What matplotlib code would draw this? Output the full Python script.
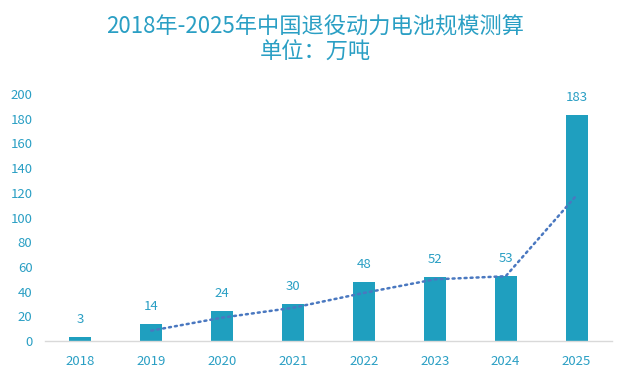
import matplotlib
matplotlib.use("Agg")
import matplotlib.pyplot as plt

plt.rcParams["font.family"] = ["Noto Sans CJK SC", "DejaVu Sans"]

years = ["2018", "2019", "2020", "2021", "2022", "2023", "2024", "2025"]
scale = [3, 14, 24, 30, 48, 52, 53, 183]
# two-period moving average trendline (starts at 2019)
trend_years = years[1:]
trend = [8.5, 19, 27, 39, 50, 52.5, 118]
y_ticks = [0, 20, 40, 60, 80, 100, 120, 140, 160, 180, 200]

text_color = "#2a9fc4"
bar_color = "#1f9fbf"
trend_color = "#4a78c0"

fig = plt.figure(figsize=(6.3, 3.82), dpi=100)
ax = fig.add_axes([0.0714, 0.107, 0.9, 0.647])

x = range(len(years))
ax.bar(x, scale, width=0.31, color=bar_color, zorder=2)
for xi, v in zip(x, scale):
    ax.annotate(str(v), (xi, v), xytext=(0, 8), textcoords="offset points",
                ha="center", va="bottom", fontsize=9.5, color=text_color)

tx = [years.index(y) for y in trend_years]
ax.plot(tx, trend, linestyle=(0, (0.8, 1.6)), color=trend_color, lw=1.8,
        dash_capstyle="round", zorder=3)

ax.set_xlim(-0.5, len(years) - 0.5)
ax.set_ylim(0, 200)
ax.set_xticks(list(x))
ax.set_xticklabels(years)
ax.set_yticks(y_ticks)
ax.tick_params(axis="both", length=0, labelsize=9.5, colors=text_color)
ax.tick_params(axis="x", pad=10)
ax.tick_params(axis="y", pad=9)

for side in ["top", "right", "left"]:
    ax.spines[side].set_visible(False)
ax.spines["bottom"].set_color("#d9d9d9")
ax.spines["bottom"].set_linewidth(1)

fig.text(0.5, 0.928, "2018年-2025年中国退役动力电池规模测算", ha="center",
         va="center", fontsize=16, color=text_color)
fig.text(0.5, 0.862, "单位：万吨", ha="center", va="center",
         fontsize=16, color=text_color)

fig.savefig("out.png", dpi=100)
